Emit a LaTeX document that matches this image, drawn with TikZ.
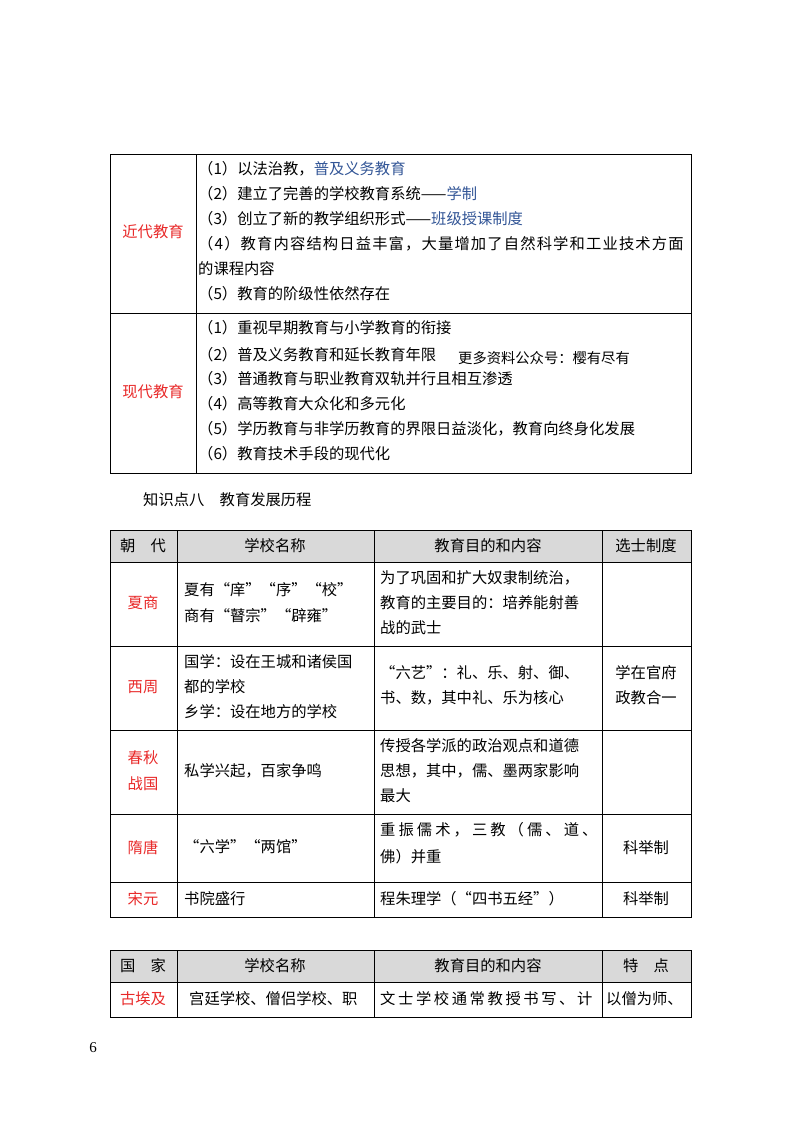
\documentclass[tikz,border=0pt]{standalone}
\usepackage{fontspec}
\setmainfont{Liberation Serif}
\newfontfamily\cjk{Noto Sans CJK SC}
\definecolor{rd}{RGB}{232,40,40}
\definecolor{bl}{RGB}{50,85,150}
\definecolor{hd}{RGB}{217,217,217}
\begin{document}
\begin{tikzpicture}[x=1pt,y=-1pt,
  t/.style={anchor=west,inner sep=0pt,font=\cjk\fontsize{15.3}{18}\selectfont},
  c/.style={anchor=center,inner sep=0pt,font=\cjk\fontsize{15.3}{18}\selectfont},
  r/.style={c,text=rd},
  ln/.style={line width=0.8pt}]
\useasboundingbox (0,0) rectangle (800,1130);
% table 1
\draw[ln] (110,154) rectangle (691,473);
\draw[ln] (196,154) -- (196,473) (110,313) -- (691,313);
\node[r] (a1) at (153,232) {近代教育};
\node[t] (a2) at (198,169) {（1）以法治教，\textcolor{bl}{普及义务教育}};
\node[t] (a3) at (198,194) {（2）建立了完善的学校教育系统——\textcolor{bl}{学制}};
\node[t] (a4) at (198,219) {（3）创立了新的教学组织形式——\textcolor{bl}{班级授课制度}};
\node[t] (a5) at (198,244) {\addfontfeature{LetterSpace=7.5}（4）教育内容结构日益丰富，大量增加了自然科学和工业技术方面};
\node[t] (a6) at (198,269) {的课程内容};
\node[t] (a7) at (198,294) {（5）教育的阶级性依然存在};
\node[r] (b1) at (153,392) {现代教育};
\node[t] (b2) at (198,328) {（1）重视早期教育与小学教育的衔接};
\node[t] (b3) at (198,355) {（2）普及义务教育和延长教育年限};
\node[t,font=\cjk\fontsize{14.3}{17}\selectfont] (bx) at (458,358) {更多资料公众号：樱有尽有};
\node[t] (b4) at (198,379) {（3）普通教育与职业教育双轨并行且相互渗透};
\node[t] (b5) at (198,404) {（4）高等教育大众化和多元化};
\node[t] (b6) at (198,429) {（5）学历教育与非学历教育的界限日益淡化，教育向终身化发展};
\node[t] (b7) at (198,454) {（6）教育技术手段的现代化};
\node[t] (ti) at (143,500) {知识点八\quad 教育发展历程};
% table 2
\fill[hd] (110,530) rectangle (691,562);
\draw[ln] (110,530) rectangle (691,917);
\foreach \x in {177,374,602} \draw[ln] (\x,530) -- (\x,917);
\foreach \y in {562,646,730,814,882} \draw[ln] (110,\y) -- (691,\y);
\node[c] (h1) at (143,546) {朝\quad 代};
\node[c] (h2) at (275,546) {学校名称};
\node[c] (h3) at (488,546) {教育目的和内容};
\node[c] (h4) at (646,546) {选士制度};
\node[r] (x1) at (143,603) {夏商};
\node[t] at (184,590) {夏有“庠”“序”“校”};
\node[t] at (184,616) {商有“瞽宗”“辟雍”};
\node[t] at (380,578) {为了巩固和扩大奴隶制统治，};
\node[t] at (380,603) {教育的主要目的：培养能射善};
\node[t] at (380,628) {战的武士};
\node[r] (x2) at (143,687) {西周};
\node[t] at (184,662) {国学：设在王城和诸侯国};
\node[t] at (184,687) {都的学校};
\node[t] at (184,712) {乡学：设在地方的学校};
\node[t] at (380,673) {“六艺”：礼、乐、射、御、};
\node[t] at (380,698) {书、数，其中礼、乐为核心};
\node[c] at (646,673) {学在官府};
\node[c] at (646,698) {政教合一};
\node[r] at (143,758) {春秋};
\node[r] at (143,784) {战国};
\node[t] at (184,771) {私学兴起，百家争鸣};
\node[t] at (380,746) {传授各学派的政治观点和道德};
\node[t] at (380,771) {思想，其中，儒、墨两家影响};
\node[t] at (380,796) {最大};
\node[r] at (143,848) {隋唐};
\node[t] at (184,847) {“六学”“两馆”};
\node[t] at (380,830) {\addfontfeature{LetterSpace=20}重振儒术，三教（儒、道、};
\node[t] at (380,857) {佛）并重};
\node[c] at (646,848) {科举制};
\node[r] at (143,899) {宋元};
\node[t] at (184,899) {书院盛行};
\node[t] at (380,899) {程朱理学（“四书五经”）};
\node[c] at (646,899) {科举制};
% table 3
\fill[hd] (110,950) rectangle (691,982);
\draw[ln] (110,950) rectangle (691,1017);
\foreach \x in {177,374,602} \draw[ln] (\x,950) -- (\x,1017);
\draw[ln] (110,982) -- (691,982);
\node[c] at (143,966) {国\quad 家};
\node[c] at (275,966) {学校名称};
\node[c] at (488,966) {教育目的和内容};
\node[c] at (646,966) {特\quad 点};
\node[r] at (143,999) {古埃及};
\node[t] at (189,999) {宫廷学校、僧侣学校、职};
\node[t] at (380,999) {\addfontfeature{LetterSpace=17}文士学校通常教授书写、计};
\node[t] at (606,999) {以僧为师、};
\node[anchor=center,font=\fontsize{15}{18}\selectfont] (pg) at (93,1048) {6};
\end{tikzpicture}
\end{document}
